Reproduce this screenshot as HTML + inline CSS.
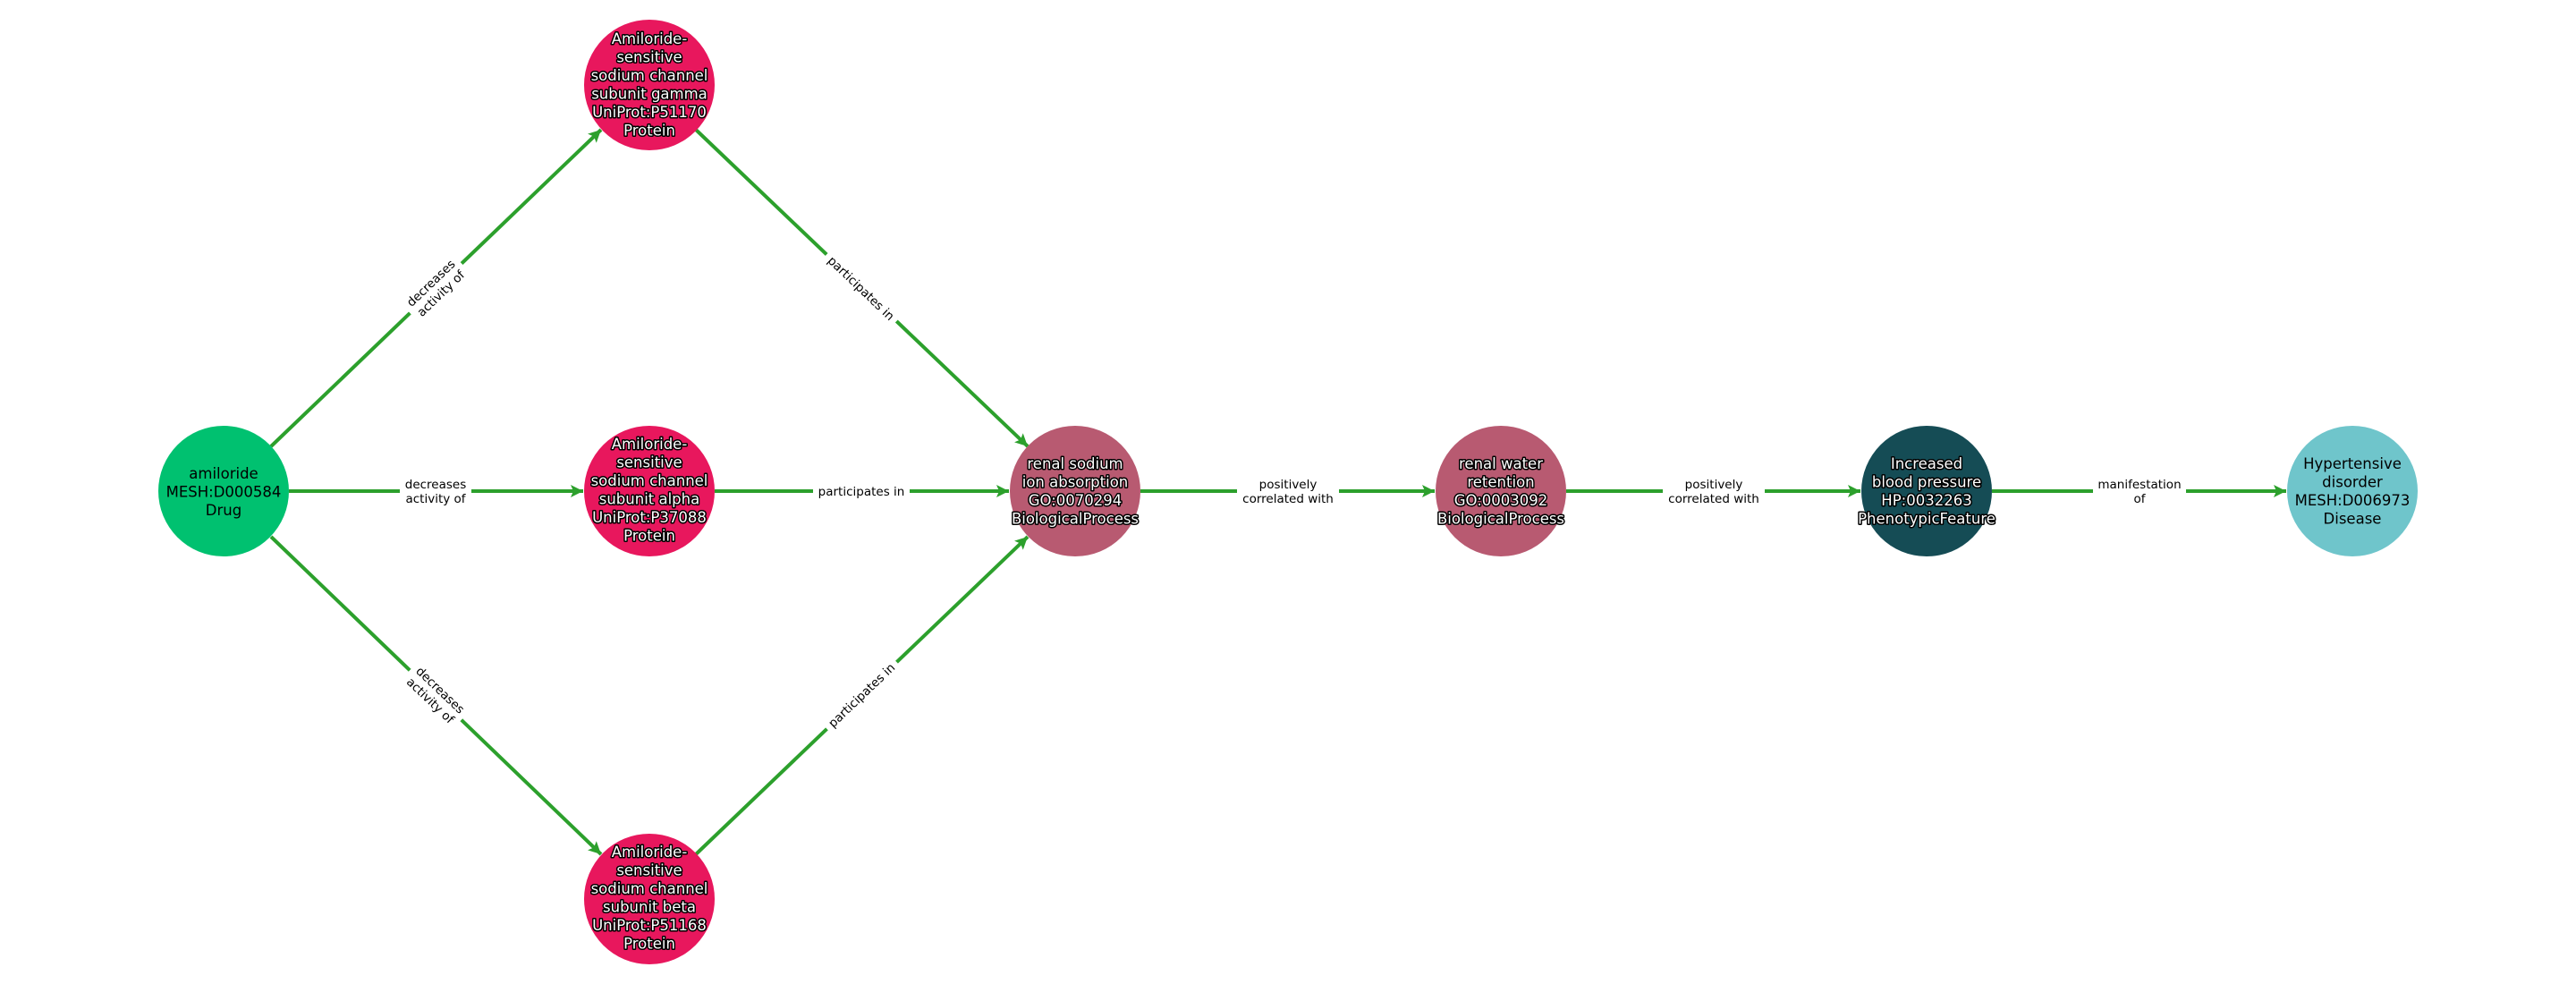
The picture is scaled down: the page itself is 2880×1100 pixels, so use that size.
<!DOCTYPE html>
<html><head><meta charset="utf-8"><style>
html,body{margin:0;padding:0;background:#fff;}
svg{display:block;}
.n{font-family:"DejaVu Sans","Liberation Sans",sans-serif;font-size:16.5px;text-anchor:middle;}
.w{fill:#fff;stroke:#000;stroke-width:3px;paint-order:stroke;stroke-linejoin:round;}
.b{fill:#000;}
.l{font-family:"DejaVu Sans","Liberation Sans",sans-serif;font-size:13.5px;text-anchor:middle;fill:#000;}
.e{stroke:#2ca02c;stroke-width:4px;fill:none;}
</style></head><body>
<svg width="2880" height="1100" viewBox="0 0 2880 1100" xmlns="http://www.w3.org/2000/svg">
<defs>
<marker id="a" markerUnits="userSpaceOnUse" markerWidth="16" markerHeight="14" refX="14" refY="7" orient="auto">
<path d="M0,0 L14,7 L0,14 L3,7 Z" fill="#2ca02c"/>
</marker>
</defs>
<line class="e" x1="303" y1="499" x2="672" y2="145" marker-end="url(#a)"/>
<line class="e" x1="323" y1="549" x2="652" y2="549" marker-end="url(#a)"/>
<line class="e" x1="303" y1="600" x2="672" y2="955" marker-end="url(#a)"/>
<line class="e" x1="778" y1="145" x2="1149" y2="499" marker-end="url(#a)"/>
<line class="e" x1="799" y1="549" x2="1128" y2="549" marker-end="url(#a)"/>
<line class="e" x1="778" y1="955" x2="1149" y2="600" marker-end="url(#a)"/>
<line class="e" x1="1275" y1="549" x2="1604" y2="549" marker-end="url(#a)"/>
<line class="e" x1="1751" y1="549" x2="2080" y2="549" marker-end="url(#a)"/>
<line class="e" x1="2227" y1="549" x2="2556" y2="549" marker-end="url(#a)"/>

<g transform="translate(487,322) rotate(-43.7)"><rect x="-40" y="-17" width="80" height="34" fill="#fff"/><text class="l" y="-3">decreases</text><text class="l" y="13">activity of</text></g>
<g transform="translate(487,549)"><rect x="-40" y="-17" width="80" height="34" fill="#fff"/><text class="l" y="-3">decreases</text><text class="l" y="13">activity of</text></g>
<g transform="translate(487,777) rotate(43.7)"><rect x="-40" y="-17" width="80" height="34" fill="#fff"/><text class="l" y="-3">decreases</text><text class="l" y="13">activity of</text></g>
<g transform="translate(963,322) rotate(43.7)"><rect x="-54" y="-10" width="108" height="20" fill="#fff"/><text class="l" y="5">participates in</text></g>
<g transform="translate(963,549)"><rect x="-54" y="-10" width="108" height="20" fill="#fff"/><text class="l" y="5">participates in</text></g>
<g transform="translate(963,777) rotate(-43.7)"><rect x="-54" y="-10" width="108" height="20" fill="#fff"/><text class="l" y="5">participates in</text></g>
<g transform="translate(1440,549)"><rect x="-57" y="-17" width="114" height="34" fill="#fff"/><text class="l" y="-3">positively</text><text class="l" y="13">correlated with</text></g>
<g transform="translate(1916,549)"><rect x="-57" y="-17" width="114" height="34" fill="#fff"/><text class="l" y="-3">positively</text><text class="l" y="13">correlated with</text></g>
<g transform="translate(2392,549)"><rect x="-52" y="-17" width="104" height="34" fill="#fff"/><text class="l" y="-3">manifestation</text><text class="l" y="13">of</text></g>

<circle cx="250" cy="549" r="73" fill="#00c170"/>
<text class="n b"><tspan x="250" y="535">amiloride</tspan><tspan x="250" y="555.5">MESH:D000584</tspan><tspan x="250" y="576">Drug</tspan></text>

<circle cx="726" cy="95" r="73" fill="#e8175d"/>
<text class="n w"><tspan x="726" y="49">Amiloride-</tspan><tspan x="726" y="69.5">sensitive</tspan><tspan x="726" y="90">sodium channel</tspan><tspan x="726" y="110.5">subunit gamma</tspan><tspan x="726" y="131">UniProt:P51170</tspan><tspan x="726" y="151.5">Protein</tspan></text>

<circle cx="726" cy="549" r="73" fill="#e8175d"/>
<text class="n w"><tspan x="726" y="502">Amiloride-</tspan><tspan x="726" y="522.5">sensitive</tspan><tspan x="726" y="543">sodium channel</tspan><tspan x="726" y="563.5">subunit alpha</tspan><tspan x="726" y="584">UniProt:P37088</tspan><tspan x="726" y="604.5">Protein</tspan></text>

<circle cx="726" cy="1005" r="73" fill="#e8175d"/>
<text class="n w"><tspan x="726" y="958">Amiloride-</tspan><tspan x="726" y="978.5">sensitive</tspan><tspan x="726" y="999">sodium channel</tspan><tspan x="726" y="1019.5">subunit beta</tspan><tspan x="726" y="1040">UniProt:P51168</tspan><tspan x="726" y="1060.5">Protein</tspan></text>

<circle cx="1202" cy="549" r="73" fill="#b85a71"/>
<text class="n w"><tspan x="1202" y="524">renal sodium</tspan><tspan x="1202" y="544.5">ion absorption</tspan><tspan x="1202" y="565">GO:0070294</tspan><tspan x="1202" y="585.5">BiologicalProcess</tspan></text>

<circle cx="1678" cy="549" r="73" fill="#b85a71"/>
<text class="n w"><tspan x="1678" y="524">renal water</tspan><tspan x="1678" y="544.5">retention</tspan><tspan x="1678" y="565">GO:0003092</tspan><tspan x="1678" y="585.5">BiologicalProcess</tspan></text>

<circle cx="2154" cy="549" r="73" fill="#154c55"/>
<text class="n w"><tspan x="2154" y="524">Increased</tspan><tspan x="2154" y="544.5">blood pressure</tspan><tspan x="2154" y="565">HP:0032263</tspan><tspan x="2154" y="585.5">PhenotypicFeature</tspan></text>

<circle cx="2630" cy="549" r="73" fill="#6fc5cb"/>
<text class="n b"><tspan x="2630" y="524">Hypertensive</tspan><tspan x="2630" y="544.5">disorder</tspan><tspan x="2630" y="565">MESH:D006973</tspan><tspan x="2630" y="585.5">Disease</tspan></text>
</svg>
</body></html>
